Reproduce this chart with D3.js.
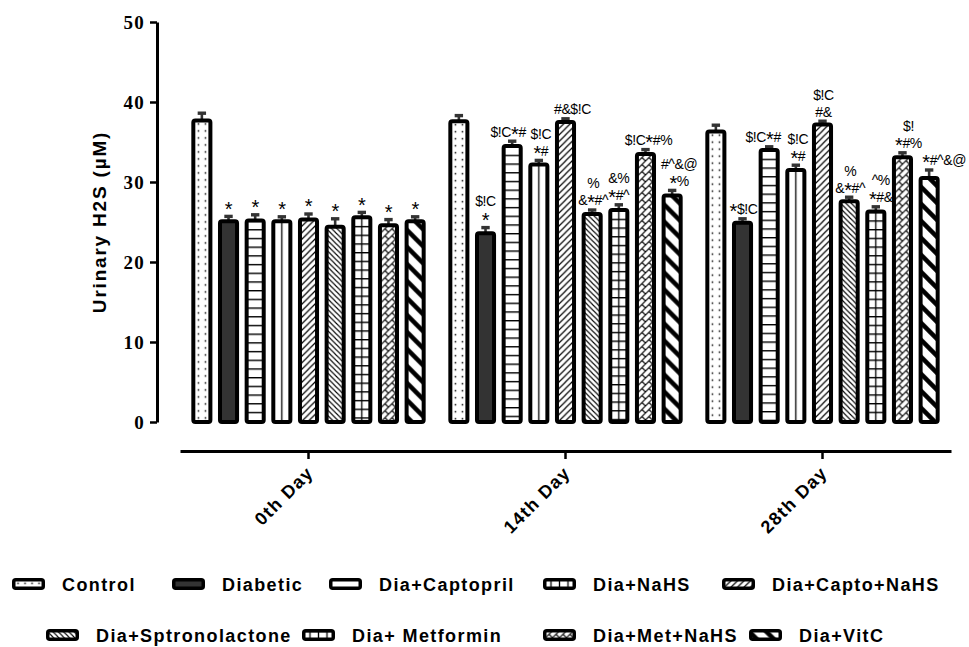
<!DOCTYPE html>
<html>
<head>
<meta charset="utf-8">
<script src="https://cdn.jsdelivr.net/npm/d3@7"></script>
<style>
  html, body { margin: 0; padding: 0; background: #fff; }
  svg { display: block; }
</style>
</head>
<body>
<svg id="chart" width="969" height="647"></svg>
<script>
// ---- data ----
const days = ["0th Day", "14th Day", "28th Day"];
const treatments = ["Control", "Diabetic", "Dia+Captopril", "Dia+NaHS", "Dia+Capto+NaHS",
                    "Dia+Sptronolactone", "Dia+ Metformin", "Dia+Met+NaHS", "Dia+VitC"];

// mean urinary H2S (µM) per treatment, one array per day
const meanDay0  = [37.7, 25.1, 25.2, 25.1, 25.3, 24.4, 25.6, 24.6, 25.1];
const meanDay14 = [37.6, 23.6, 34.5, 32.2, 37.5, 26.0, 26.5, 33.5, 28.3];
const meanDay28 = [36.3, 24.9, 34.0, 31.5, 37.2, 27.6, 26.3, 33.1, 30.5];

// standard error of the mean
const semDay0  = [0.9, 0.6, 0.7, 0.55, 0.7, 1.0, 0.6, 0.7, 0.55];
const semDay14 = [0.7, 0.7, 0.6, 0.5, 0.4, 0.5, 0.65, 0.55, 0.65];
const semDay28 = [0.8, 0.5, 0.4, 0.6, 0.4, 0.5, 0.6, 0.55, 1.0];

// significance marks above each bar (top line first)
const sigDay0  = [[], ["*"], ["*"], ["*"], ["*"], ["*"], ["*"], ["*"], ["*"]];
const sigDay14 = [[], ["$!C", "*"], ["$!C*#"], ["$!C", "*#"], ["#&$!C"], ["%", "&*#^"],
                  ["&%", "*#^"], ["$!C*#%"], ["#^&@", "*%"]];
const sigDay28 = [[], ["*$!C"], ["$!C*#"], ["$!C", "*#"], ["$!C", "#&"], ["%", "&*#^"],
                  ["^%", "*#&"], ["$!", "*#%"], ["*#^&@"]];

const yTicks = [0, 10, 20, 30, 40, 50];
const yTitle = "Urinary H2S (µM)";

const means = [meanDay0, meanDay14, meanDay28];
const sems  = [semDay0, semDay14, semDay28];
const sigs  = [sigDay0, sigDay14, sigDay28];

// ---- styling / layout ----
const fillKind = ["dots", "solid", "hlines", "vlines", "diagR", "diagL", "grid", "zigzag", "thickL"];
const SANS = "'Liberation Sans', Arial, Helvetica, sans-serif";
const SERIF = "'Liberation Serif', 'Times New Roman', serif";

// sideways nudges so neighbouring significance marks don't collide: [day][treatment]
const sigNudge = [
  [0, 0, 0, 0, 0, 0, 0, 0, 0],
  [0, 0, -4, 2, 7, 1, 0, 3, 7],
  [0, 1, -6, 2, 1, 1, 5, 6, 15]
];

const svg = d3.select("#chart");
const defs = svg.append("defs");

const y = d3.scaleLinear().domain([0, 50]).range([422, 22]);
const x0 = d3.scaleBand().domain(days).range([180, 951]);
const x1 = d3.scaleBand().domain(treatments).range([0, x0.bandwidth()])
  .paddingInner(0.36).paddingOuter(0.5);

// one pattern instance per shape so the hatching lines up with it
let pid = 0;
function fillFor(kind, cx, top) {
  if (kind === "solid") return "#333";
  const id = "pat" + (pid++);
  const p = defs.append("pattern").attr("id", id).attr("patternUnits", "userSpaceOnUse");
  const tile = (px, py, w, h) => {
    p.attr("x", px).attr("y", py).attr("width", w).attr("height", h);
    p.append("rect").attr("width", w).attr("height", h).attr("fill", "#fff");
  };
  const bar = (rx, ry, w, h) => p.append("rect").attr("x", rx).attr("y", ry)
    .attr("width", w).attr("height", h).attr("fill", "#000");
  const line = (d, sw) => p.append("path").attr("d", d).attr("stroke", "#000")
    .attr("stroke-width", sw).attr("fill", "none");
  switch (kind) {
    case "dots":
      tile(cx - 7, top, 7, 7); bar(2.8, 2.8, 1.5, 1.5); break;
    case "hlines":
      tile(0, top, 10, 8.7); bar(0, 0, 10, 1.4); break;
    case "vlines":
      tile(cx - 4.25, 0, 8.5, 10); bar(3.6, 0, 1.3, 10); break;
    case "grid":
      tile(cx - 4.25, top, 8.5, 8.7); bar(0, 0, 8.5, 1.4); bar(3.6, 0, 1.3, 8.7); break;
    case "diagR": {
      const w = 6.5; tile(cx, top, w, w);
      line(`M0,${w}L${w},0M${-w/2},${w/2}L${w/2},${-w/2}M${w/2},${1.5*w}L${1.5*w},${w/2}`, 1.2);
      break;
    }
    case "diagL": {
      const w = 5.3; tile(cx, top, w, w);
      line(`M0,0L${w},${w}M${-w/2},${w/2}L${w/2},${1.5*w}M${w/2},${-w/2}L${1.5*w},${w/2}`, 1.1);
      break;
    }
    case "zigzag": {
      const w = 7; tile(cx, top, w, w);
      line(`M0,${w}L${w},0M${-w/2},${w/2}L${w/2},${-w/2}M${w/2},${1.5*w}L${1.5*w},${w/2}`, 1.2);
      line(`M${w/2},${w/2}L${w},${w}M${-w/2},${-w/2}L0,0`, 1.2);
      break;
    }
    case "thickL": {
      const w = 17; tile(cx, top, w, w);
      line(`M0,0L${w},${w}M${-w/2},${w/2}L${w/2},${1.5*w}M${w/2},${-w/2}L${1.5*w},${w/2}`, 4.5);
      break;
    }
  }
  return `url(#${id})`;
}

// ---- y axis ----
const yAxis = svg.append("g")
  .attr("transform", "translate(157,0)")
  .call(d3.axisLeft(y).tickValues(yTicks).tickSize(7).tickSizeOuter(0).tickPadding(5));
yAxis.select(".domain").attr("stroke", "#000").attr("stroke-width", 3);
yAxis.selectAll(".tick line").attr("stroke", "#000").attr("stroke-width", 2.5);
yAxis.selectAll(".tick text")
  .attr("font-family", SERIF).attr("font-weight", "bold").attr("font-size", 19)
  .attr("letter-spacing", 1.2).attr("fill", "#000");

svg.append("text")
  .attr("transform", "translate(106,222) rotate(-90)")
  .attr("text-anchor", "middle")
  .attr("font-family", SANS).attr("font-weight", "bold").attr("font-size", 19)
  .attr("letter-spacing", 1.8)
  .text(yTitle);

// ---- x axis ----
const xAxis = svg.append("g")
  .attr("transform", "translate(0,451)")
  .call(d3.axisBottom(x0).tickSize(8).tickSizeOuter(0));
xAxis.select(".domain").attr("stroke", "#000").attr("stroke-width", 3);
xAxis.selectAll(".tick line").attr("stroke", "#000").attr("stroke-width", 2.5);
xAxis.selectAll(".tick text")
  .attr("font-family", SANS).attr("font-weight", "bold").attr("font-size", 18)
  .attr("letter-spacing", 1.3).attr("fill", "#000")
  .attr("text-anchor", "end")
  .attr("transform", "translate(6,23) rotate(-45)")
  .attr("dy", 0).attr("y", 0).attr("x", 0);

// ---- bars ----
const rows = [];
days.forEach((d, gi) => treatments.forEach((t, si) => rows.push({
  day: d, gi, treatment: t, si, value: means[gi][si], err: sems[gi][si], sig: sigs[gi][si]
})));

const cxOf = r => x0(r.day) + x1(r.treatment) + x1.bandwidth() / 2;

// error bars first; the bar outline covers the lower stem
const eb = svg.append("g");
rows.forEach(r => {
  const cx = cxOf(r), yt = y(r.value + r.err);
  eb.append("line").attr("x1", cx).attr("x2", cx).attr("y1", y(r.value)).attr("y2", yt)
    .attr("stroke", "#333").attr("stroke-width", 2.6);
  eb.append("line").attr("x1", cx - 4.2).attr("x2", cx + 4.2).attr("y1", yt).attr("y2", yt)
    .attr("stroke", "#333").attr("stroke-width", 3.4);
});

svg.append("g").selectAll("rect").data(rows).join("rect")
  .attr("x", r => x0(r.day) + x1(r.treatment))
  .attr("y", r => y(r.value))
  .attr("width", x1.bandwidth())
  .attr("height", r => y(0) - y(r.value))
  .attr("rx", 2).attr("ry", 2)
  .attr("fill", r => fillFor(fillKind[r.si], cxOf(r), y(r.value)))
  .attr("stroke", "#000").attr("stroke-width", 4).attr("stroke-linejoin", "round");

// ---- significance marks ----
const sigG = svg.append("g").attr("font-family", SANS).attr("font-size", 14)
  .attr("letter-spacing", -0.4).attr("fill", "#000");
function markLine(sel, str) {
  // stars are set larger and dropped so they sit level with the other symbols
  const parts = str.split(/(\*)/).filter(s => s.length);
  let shifted = false;
  parts.forEach(part => {
    const ts = sel.append("tspan").text(part);
    if (part === "*") {
      ts.attr("font-size", 20).attr("dy", shifted ? 0 : 4);
      shifted = true;
    } else {
      ts.attr("dy", shifted ? -4 : 0);
      shifted = false;
    }
  });
}
rows.forEach(r => {
  if (!r.sig.length) return;
  const cx = cxOf(r) + sigNudge[r.gi][r.si];
  const base = y(r.value + r.err) - 1.7 - 3;
  const n = r.sig.length;
  r.sig.forEach((ln, i) => {
    const t = sigG.append("text").attr("x", cx).attr("y", base - (n - 1 - i) * 17)
      .attr("text-anchor", "middle");
    markLine(t, ln);
  });
});

// ---- legend ----
const legendPos = [
  [12, 584], [172, 584], [329, 584], [543, 584], [722, 584],
  [46, 635], [302, 635], [543, 635], [749, 635]
];
const leg = svg.append("g");
treatments.forEach((t, si) => {
  const [lx, ly] = legendPos[si];
  const sx = lx + 1.75, sy = ly - 6 + 1.75, sw = 29.5, sh = 8.5;
  const kind = fillKind[si] === "hlines" ? "plain" : fillKind[si];
  const fill = kind === "plain" ? "#fff" : fillFor(kind, sx + sw / 2, sy);
  leg.append("rect").attr("x", sx).attr("y", sy).attr("width", sw).attr("height", sh)
    .attr("rx", 2).attr("ry", 2)
    .attr("fill", fill).attr("stroke", "#000").attr("stroke-width", 3.5);
  leg.append("text").attr("x", lx + 50).attr("y", ly + 6.5)
    .attr("font-family", SANS).attr("font-weight", "bold").attr("font-size", 18)
    .attr("letter-spacing", 1.4)
    .text(t);
});
</script>
</body>
</html>
